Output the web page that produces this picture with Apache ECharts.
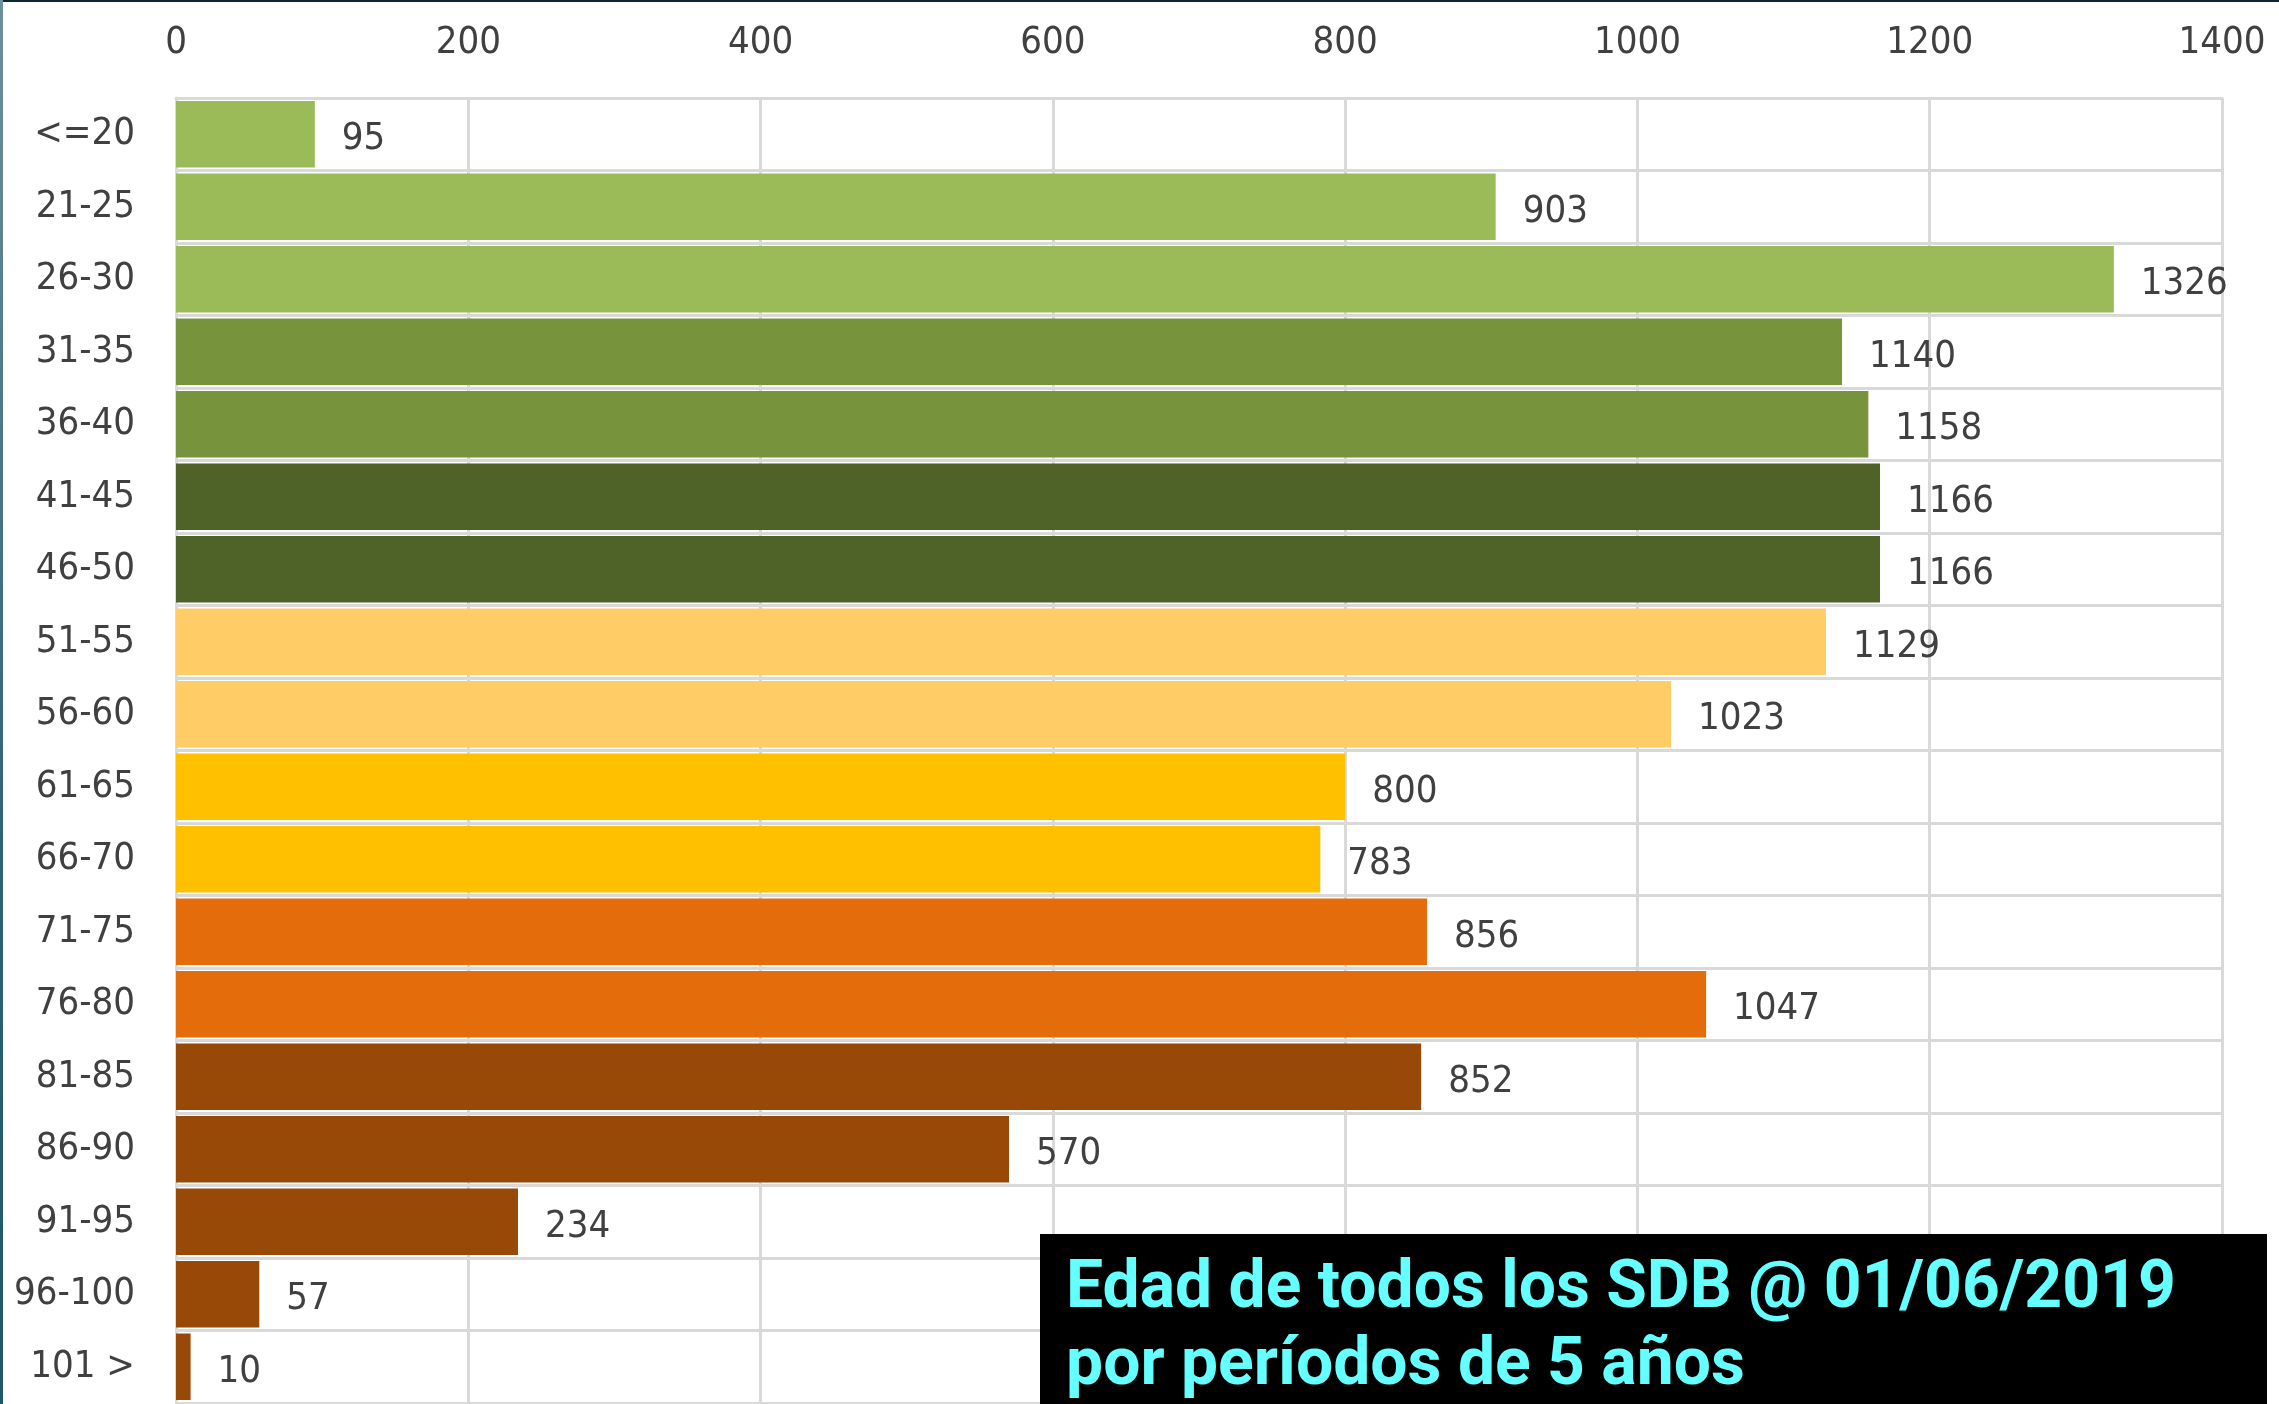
<!DOCTYPE html>
<html>
<head>
<meta charset="utf-8">
<title>Edad de todos los SDB</title>
<script src="https://cdn.jsdelivr.net/npm/echarts@6/dist/echarts.min.js"></script>
<style>
  html, body { margin: 0; padding: 0; background: #fff; }
  #wrap { position: relative; width: 2279px; height: 1404px; overflow: hidden; }
  #chart { width: 2279px; height: 1404px; }
  /* bordes del recorte de pantalla */
  .edgeTop { position: absolute; left: 0; top: 0; width: 2279px; height: 2px; background: #0c2730; }
  .edgeLeft { position: absolute; left: 0; top: 0; width: 3px; height: 1404px;
    background: linear-gradient(#6e8f9c, #2f6273 60%, #225567); }
</style>
</head>
<body>
<div id="wrap">
  <div id="chart"></div>
  <div class="edgeTop"></div>
  <div class="edgeLeft"></div>
</div>
<script>
// tramos de edad, de arriba abajo
const categorias = ['<=20', '21-25', '26-30', '31-35', '36-40', '41-45', '46-50', '51-55', '56-60',
  '61-65', '66-70', '71-75', '76-80', '81-85', '86-90', '91-95', '96-100', '101 >']
// numero de SDB por tramo
const valores = [95, 903, 1326, 1140, 1158, 1166, 1166, 1129, 1023, 800, 783, 856, 1047, 852, 570, 234, 57, 10]
// ticks del eje de valores
const ejeMin = 0
const ejeMax = 1400
const ejeIntervalo = 200

// un color por barra
const coloresBarra = ['#9bbb59', '#9bbb59', '#9bbb59', '#77933c', '#77933c', '#4f6228', '#4f6228',
  '#ffcc66', '#ffcc66', '#ffc000', '#ffc000', '#e46c0a', '#e46c0a',
  '#984807', '#984807', '#984807', '#984807', '#984807']

const titulo1 = 'Edad de todos los SDB @ 01/06/2019'
const titulo2 = 'por períodos de 5 años'

const fuente = '"DejaVu Sans Condensed", "DejaVu Sans", sans-serif'
const gris = '#d9d9d9'
const texto = '#404040'

let myChart = echarts.init(document.getElementById('chart'), null, { renderer: 'canvas' })

let option = {
  animation: false,
  backgroundColor: '#ffffff',
  grid: {
    left: 176,
    right: 57,
    top: 98,
    bottom: 1,
    containLabel: false
  },
  xAxis: {
    type: 'value',
    position: 'top',
    min: ejeMin,
    max: ejeMax,
    interval: ejeIntervalo,
    axisLine: { show: true, lineStyle: { color: gris, width: 3 } },
    axisTick: { show: false },
    axisLabel: {
      color: texto,
      fontFamily: fuente,
      fontSize: 38,
      margin: 36,
      formatter: function(v) {
        return String(v)
      }
    },
    splitLine: { show: true, lineStyle: { color: gris, width: 3 } }
  },
  yAxis: {
    type: 'category',
    inverse: true,
    data: categorias,
    axisLine: { show: true, lineStyle: { color: gris, width: 3 } },
    axisTick: { show: false },
    axisLabel: {
      color: texto,
      fontFamily: fuente,
      fontSize: 38,
      margin: 41,
      padding: [10, 0, 0, 0]
    },
    splitLine: { show: true, lineStyle: { color: gris, width: 3 } }
  },
  series: [
    {
      type: 'bar',
      data: valores,
      barCategoryGap: '8%',
      itemStyle: {
        color: function(params) {
          return coloresBarra[params.dataIndex]
        }
      },
      label: {
        show: true,
        position: 'right',
        distance: 27,
        offset: [0, 5],
        color: texto,
        fontFamily: fuente,
        fontSize: 38
      }
    }
  ],
  graphic: [
    {
      type: 'group',
      left: 1040,
      top: 1234,
      z: 100,
      children: [
        {
          type: 'rect',
          z: 100,
          shape: { x: 0, y: 0, width: 1227, height: 175 },
          style: { fill: '#000000' }
        },
        {
          type: 'text',
          z: 101,
          x: 26,
          y: 23,
          style: {
            text: titulo1,
            fill: '#66ffff',
            fontFamily: 'Roboto, "Open Sans", sans-serif',
            fontWeight: 'bold',
            fontSize: 66,
            verticalAlign: 'top'
          }
        },
        {
          type: 'text',
          z: 101,
          x: 26,
          y: 100,
          style: {
            text: titulo2,
            fill: '#66ffff',
            fontFamily: 'Roboto, "Open Sans", sans-serif',
            fontWeight: 'bold',
            fontSize: 66,
            verticalAlign: 'top'
          }
        }
      ]
    }
  ]
}

myChart.setOption(option)
</script>
</body>
</html>
